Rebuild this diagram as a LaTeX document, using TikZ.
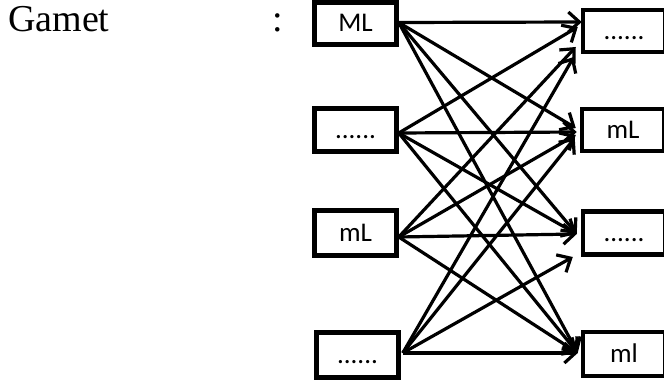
\documentclass[tikz,border=0pt]{standalone}
\usepackage{fontspec}
\setmainfont{Liberation Serif}
\newfontfamily\boxfont{Carlito}
\usetikzlibrary{arrows.meta,calc}
\begin{document}
\begin{tikzpicture}[x=1pt,y=-1pt,
  gbox/.style={draw=black,line width=4.5pt,fill=white,inner sep=0pt,minimum width=82pt,minimum height=42pt,text height=17pt,text depth=0pt,font=\boxfont\fontsize{27}{29}\selectfont},
  garrow/.style={line width=3.2pt,-{Straight Barb[length=11pt,width=20pt,line width=3.2pt]}},
  lbl/.style={inner sep=0pt,anchor=base west,font=\fontsize{38}{40}\selectfont}]
\useasboundingbox (0,0) rectangle (664,382);
\node[lbl] (gamet) at (8,32) {Gamet};
\node[lbl] (colon) at (272,32) {:};
% left boxes
\node[gbox] (b1) at (355.5,23.5) {ML};
\node[gbox,minimum height=43pt] (b2) at (355.5,130) {......};
\node[gbox,minimum height=45pt] (b3) at (355.5,233) {mL};
\node[gbox,minimum height=45pt] (b4) at (357.5,355) {......};
% right boxes
\node[gbox] (r1) at (624,31) {......};
\node[gbox] (r2) at (623,130) {mL};
\node[gbox,minimum height=43pt] (r3) at (624,233) {......};
\node[gbox,minimum height=44pt] (r4) at (624,354) {ml};
% arrows to r1
\draw[garrow] ([yshift=1pt]b1.east) -- ([xshift=1pt,yshift=9pt]r1.west);
\draw[garrow] ([yshift=-3pt]b2.east) -- ([xshift=-3pt,yshift=4pt]r1.west);
\draw[garrow] ([yshift=-4pt]b3.east) -- ([xshift=-5pt,yshift=-16pt]r1.west);
\draw[garrow] ([xshift=2pt,yshift=2pt]b4.east) -- ([xshift=-7pt,yshift=-26pt]r1.west);
% arrows to r2
\draw[garrow] ([yshift=1pt]b1.east) -- ([xshift=-4pt,yshift=2pt]r2.west);
\draw[garrow] ([yshift=-3pt]b2.east) -- ([xshift=-3pt,yshift=-2pt]r2.west);
\draw[garrow] ([yshift=-4pt]b3.east) -- ([xshift=-4pt,yshift=-5pt]r2.west);
\draw[garrow] ([xshift=2pt,yshift=2pt]b4.east) -- ([xshift=-5pt,yshift=-8pt]r2.west);
% arrows to r3
\draw[garrow] ([yshift=1pt]b1.east) -- ([xshift=-4pt,yshift=-1pt]r3.west);
\draw[garrow] ([yshift=-3pt]b2.east) -- ([xshift=-4pt,yshift=-1pt]r3.west);
\draw[garrow] ([yshift=-4pt]b3.east) -- ([xshift=-4pt,yshift=-1pt]r3.west);
\draw[garrow] ([xshift=2pt,yshift=2pt]b4.east) -- ([xshift=-8pt,yshift=-24pt]r3.west);
% arrows to r4
\draw[garrow] ([yshift=1pt]b1.east) -- ([xshift=-3pt,yshift=1pt]r4.west);
\draw[garrow] ([yshift=-3pt]b2.east) -- ([xshift=-3pt,yshift=1pt]r4.west);
\draw[garrow] ([yshift=-4pt]b3.east) -- ([xshift=-3pt,yshift=1pt]r4.west);
\draw[garrow] ([xshift=2pt,yshift=2pt]b4.east) -- ([xshift=-3pt,yshift=1pt]r4.west);
\end{tikzpicture}
\end{document}
